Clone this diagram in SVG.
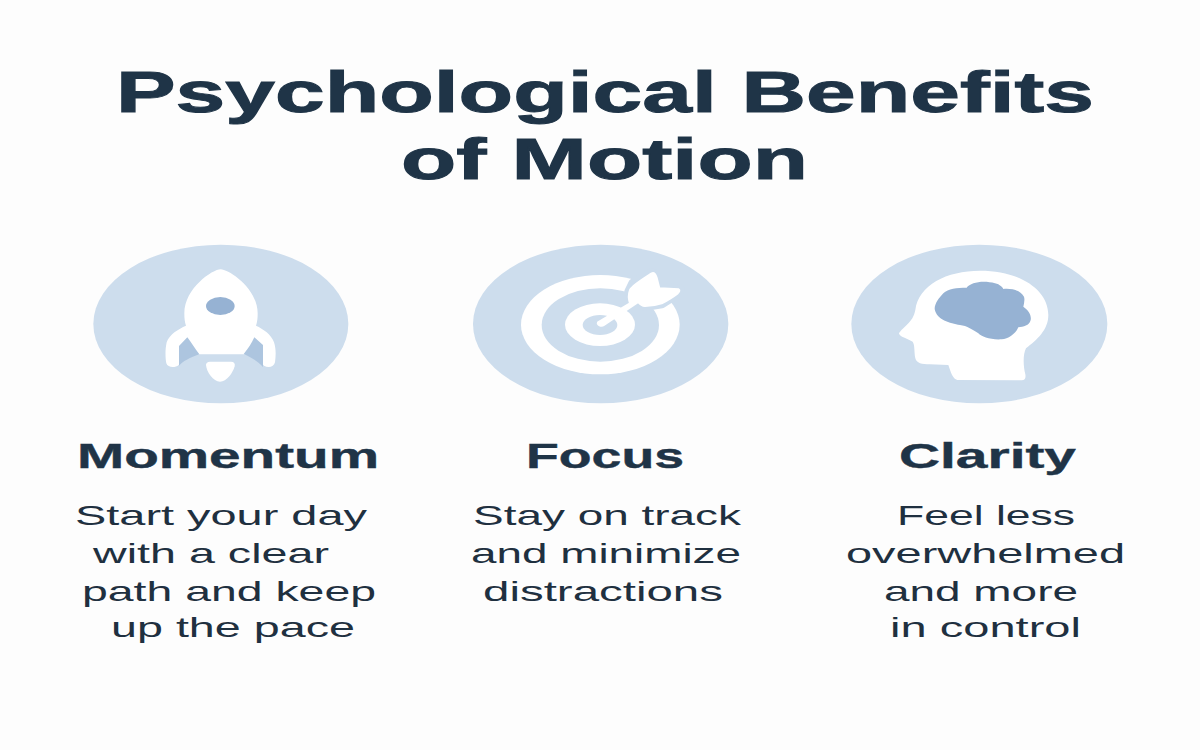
<svg xmlns="http://www.w3.org/2000/svg" width="1200" height="750" viewBox="0 0 1200 750">
<style>
.t{font-family:"Liberation Sans",Arial,sans-serif;font-weight:700;font-size:58px;fill:#1f3447;stroke:#1f3447;stroke-width:1}
.h{font-family:"Liberation Sans",Arial,sans-serif;font-weight:700;font-size:35px;fill:#1f3447;stroke:#1f3447;stroke-width:.4}
.b{font-family:"Liberation Sans",Arial,sans-serif;font-weight:400;font-size:28px;fill:#1f3040}
.disc{fill:#cddded}
.w{fill:#fff}
.d{fill:#96b2d3}
.m{fill:#adc5df}
</style>
<rect width="1200" height="750" fill="#fdfdfd"/>
<g id="title">
<text class="t" x="116" y="112" textLength="978" lengthAdjust="spacingAndGlyphs">Psychological Benefits</text>
<text class="t" x="401" y="179" textLength="407" lengthAdjust="spacingAndGlyphs">of Motion</text>
</g>
<g id="momentum">
<g transform="translate(80 235) scale(.33333)">
<ellipse class="disc" cx="422.500" cy="267" rx="382.500" ry="238"/>
<path class="w" d="M422 103C398 103 313 160 313 235C313 250 314 260 318 272C295 282 268 298 260 322C255 345 256 370 259 385C263 398 285 400 296 390C305 375 320 365 340 358H500C525 365 540 378 552 392C565 400 582 396 585 382C588 360 588 340 582 322C574 298 550 282 528 272C532 260 533 250 533 235C533 160 446 103 422 103Z"/>
<ellipse class="d" cx="421" cy="213" rx="43" ry="27"/>
<path class="m" d="M322 307L297 333V392C310 378 330 368 358 358C345 340 335 325 322 307Z"/>
<path class="m" d="M523 307L549 330V396C535 380 515 368 491 357C505 340 515 325 523 307Z"/>
<path class="w" d="M378 390C378 384 382 380 390 380H453C462 380 466 385 464 394C458 415 440 440 420 440C400 440 380 412 378 390Z"/>
</g>
<text class="h" x="77" y="468" textLength="302" lengthAdjust="spacingAndGlyphs">Momentum</text>
<text class="b" x="75" y="524.500" textLength="292" lengthAdjust="spacingAndGlyphs">Start your day</text>
<text class="b" x="93" y="562.500" textLength="236" lengthAdjust="spacingAndGlyphs">with a clear</text>
<text class="b" x="82" y="600.500" textLength="294" lengthAdjust="spacingAndGlyphs">path and keep</text>
<text class="b" x="111" y="637" textLength="244" lengthAdjust="spacingAndGlyphs">up the pace</text>
</g>
<g id="focus">
<g transform="translate(460 235) scale(.33333)">
<ellipse class="disc" cx="422" cy="267" rx="383" ry="238"/>
<ellipse class="w" cx="421" cy="269" rx="238" ry="149"/>
<ellipse class="disc" cx="421" cy="270" rx="176" ry="110"/>
<ellipse class="w" cx="420" cy="269" rx="105" ry="64"/>
<ellipse class="disc" cx="420" cy="270" rx="52" ry="30"/>
<path class="disc" stroke="#cddded" stroke-width="30" stroke-linejoin="round" d="M508 170L520 145L575 115L588 120L598 160L660 163L655 173L605 205L555 213L535 200Z"/>
<path class="w" stroke="#fff" stroke-width="6" stroke-linejoin="round" d="M414 262L510 205C505 190 505 178 510 165C518 150 555 128 575 115C583 112 587 118 590 128L598 160L656 163C660 165 658 170 653 175C640 185 620 197 605 205C590 210 570 213 555 213C547 212 540 207 535 201L432 270C424 275 410 270 414 262Z"/>
</g>
<text class="h" x="526" y="468" textLength="158" lengthAdjust="spacingAndGlyphs">Focus</text>
<text class="b" x="473" y="524.500" textLength="268" lengthAdjust="spacingAndGlyphs">Stay on track</text>
<text class="b" x="471" y="562.500" textLength="270" lengthAdjust="spacingAndGlyphs">and minimize</text>
<text class="b" x="483" y="600.500" textLength="240" lengthAdjust="spacingAndGlyphs">distractions</text>
</g>
<g id="clarity">
<g transform="translate(840 235) scale(.33333)">
<ellipse class="disc" cx="418" cy="267" rx="384" ry="238"/>
<path class="w" d="M420 107C320 107 235 150 226 225C222 245 215 255 200 270C190 280 178 290 177 296C180 305 205 312 218 320C225 330 222 350 226 370C230 385 245 388 270 388L325 390C332 410 338 432 352 435L545 436C555 436 558 428 556 418C550 395 548 360 558 340C590 315 625 285 625 240C625 165 540 107 420 107Z"/>
<path class="d" d="M284 222C284 205 298 188 310 175C325 160 350 158 380 158C392 142 430 135 465 145C480 148 488 158 490 162C515 160 540 165 552 185C555 195 552 205 550 215C565 225 575 240 572 255C568 272 550 275 535 277C528 295 505 313 485 313C450 315 425 305 415 295C400 285 380 272 360 270C330 265 290 255 284 222Z"/>
</g>
<text class="h" x="899" y="468" textLength="177" lengthAdjust="spacingAndGlyphs">Clarity</text>
<text class="b" x="897" y="524.500" textLength="178" lengthAdjust="spacingAndGlyphs">Feel less</text>
<text class="b" x="846" y="562.500" textLength="279" lengthAdjust="spacingAndGlyphs">overwhelmed</text>
<text class="b" x="884" y="600.500" textLength="194" lengthAdjust="spacingAndGlyphs">and more</text>
<text class="b" x="890" y="637" textLength="191" lengthAdjust="spacingAndGlyphs">in control</text>
</g>
</svg>
